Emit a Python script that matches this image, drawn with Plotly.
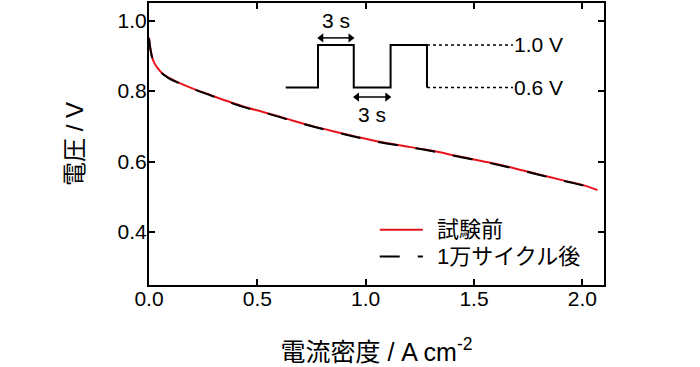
import plotly.graph_objects as go

# Current density (A cm^-2) and cell voltage (V)
current_before = [0.0, 0.003, 0.008, 0.015, 0.026, 0.04, 0.057, 0.09, 0.134, 0.2, 0.288,
                  0.36, 0.442, 0.526, 0.6, 0.665, 0.76, 0.865, 0.96, 1.057, 1.17, 1.296,
                  1.43, 1.565, 1.68, 1.804, 1.93, 2.0, 2.058, 2.07]
voltage_before = [0.952, 0.935, 0.915, 0.895, 0.878, 0.865, 0.853, 0.838, 0.825, 0.808, 0.788,
                  0.772, 0.755, 0.741, 0.728, 0.716, 0.700, 0.684, 0.670, 0.657, 0.645, 0.632,
                  0.615, 0.598, 0.582, 0.563, 0.544, 0.534, 0.522, 0.519]

current_after = [0.0, 0.003, 0.008, 0.015, 0.026, 0.04, 0.057, 0.09, 0.134, 0.2, 0.288,
                 0.36, 0.442, 0.526, 0.6, 0.665, 0.76, 0.865, 0.96, 1.057, 1.17, 1.296,
                 1.43, 1.565, 1.68, 1.804, 1.93, 2.0, 2.058, 2.07]
voltage_after = [0.950, 0.934, 0.914, 0.894, 0.877, 0.864, 0.852, 0.837, 0.824, 0.807, 0.787,
                 0.771, 0.754, 0.740, 0.727, 0.715, 0.699, 0.683, 0.669, 0.656, 0.644, 0.631,
                 0.614, 0.597, 0.581, 0.562, 0.543, 0.533, 0.521, 0.518]

series_names = ["試験前", "1万サイクル後"]
x_ticks = [0.0, 0.5, 1.0, 1.5, 2.0]
y_ticks = [0.4, 0.6, 0.8, 1.0]

FONT = "Liberation Sans, Arial, Noto Sans CJK JP, sans-serif"
RED = "#e8141c"
DASH = "20px,18px"

fig = go.Figure()
fig.add_trace(go.Scatter(x=current_before, y=voltage_before, mode="lines", name=series_names[0],
                         showlegend=False, line=dict(color=RED, width=2, shape="spline")))
fig.add_trace(go.Scatter(x=current_after, y=voltage_after, mode="lines", name=series_names[1],
                         showlegend=False,
                         line=dict(color="black", width=2, dash=DASH, shape="spline")))

# Inset: potential cycling waveform (decoration)
xs = [0.631, 0.780, 0.780, 0.945, 0.945, 1.115, 1.115, 1.283, 1.283]
ys = [0.810, 0.810, 0.931, 0.931, 0.810, 0.810, 0.931, 0.931, 0.810]
path = "M " + " L ".join(f"{a},{b}" for a, b in zip(xs, ys))
arrow_top_y, arrow_bot_y = 0.951, 0.783
shapes = [
    dict(type="path", path=path, xref="x", yref="y", line=dict(color="black", width=2)),
    dict(type="line", x0=1.283, x1=1.68, y0=0.931, y1=0.931, xref="x", yref="y",
         line=dict(color="black", width=1.5, dash="dot")),
    dict(type="line", x0=1.283, x1=1.68, y0=0.810, y1=0.810, xref="x", yref="y",
         line=dict(color="black", width=1.5, dash="dot")),
    dict(type="line", x0=0.79, x1=0.935, y0=arrow_top_y, y1=arrow_top_y, xref="x", yref="y",
         line=dict(color="black", width=1.5)),
    dict(type="line", x0=0.955, x1=1.105, y0=arrow_bot_y, y1=arrow_bot_y, xref="x", yref="y",
         line=dict(color="black", width=1.5)),
    # legend samples
    dict(type="line", x0=1.065, x1=1.264, y0=0.407, y1=0.407, xref="x", yref="y",
         line=dict(color=RED, width=2)),
    dict(type="line", x0=1.065, x1=1.264, y0=0.331, y1=0.331, xref="x", yref="y",
         line=dict(color="black", width=2, dash=DASH)),
]
fig.add_trace(go.Scatter(
    x=[0.795, 0.930, 0.960, 1.100],
    y=[arrow_top_y, arrow_top_y, arrow_bot_y, arrow_bot_y],
    mode="markers", showlegend=False, hoverinfo="skip",
    marker=dict(symbol=["triangle-left", "triangle-right", "triangle-left", "triangle-right"],
                size=8, color="black", line=dict(width=0))))

annotations = [
    dict(x=0.862, y=1.0, xref="x", yref="y", text="3 s", showarrow=False,
         font=dict(size=21, color="black", family=FONT)),
    dict(x=1.03, y=0.735, xref="x", yref="y", text="3 s", showarrow=False,
         font=dict(size=21, color="black", family=FONT)),
    dict(x=1.675, y=0.931, xref="x", yref="y", text="1.0 V", showarrow=False, xanchor="left",
         font=dict(size=21, color="black", family=FONT)),
    dict(x=1.675, y=0.810, xref="x", yref="y", text="0.6 V", showarrow=False, xanchor="left",
         font=dict(size=21, color="black", family=FONT)),
    dict(x=1.319, y=0.407, xref="x", yref="y", text=series_names[0], showarrow=False,
         xanchor="left", font=dict(size=22, color="black", family=FONT)),
    dict(x=1.319, y=0.331, xref="x", yref="y", text=series_names[1], showarrow=False,
         xanchor="left", font=dict(size=22, color="black", family=FONT)),
]

axis_common = dict(showline=True, linecolor="black", linewidth=2, mirror="ticks",
                   ticks="inside", ticklen=6, tickwidth=2, tickcolor="black",
                   showgrid=False, zeroline=False, automargin=False,
                   tickfont=dict(size=21, color="black", family=FONT))

fig.update_layout(
    width=700, height=367,
    margin=dict(l=149, r=96, t=3, b=82),
    paper_bgcolor="white", plot_bgcolor="white",
    font=dict(family=FONT, color="black"),
    shapes=shapes, annotations=annotations,
    showlegend=False,
    xaxis=dict(range=[0, 2.1], tickvals=x_ticks, tickformat=".1f", ticklabelstandoff=-6,
               title=dict(text="電流密度 / A cm<sup>-2</sup>", font=dict(size=25), standoff=34),
               **axis_common),
    yaxis=dict(range=[0.25, 1.05], tickvals=y_ticks, tickformat=".1f", ticklabelstandoff=-4,
               title=dict(text="電圧 / V", font=dict(size=24), standoff=27),
               **axis_common),
)

fig.write_html("out.html", config={"displayModeBar": False},
               post_script="document.body.style.margin='0';")
